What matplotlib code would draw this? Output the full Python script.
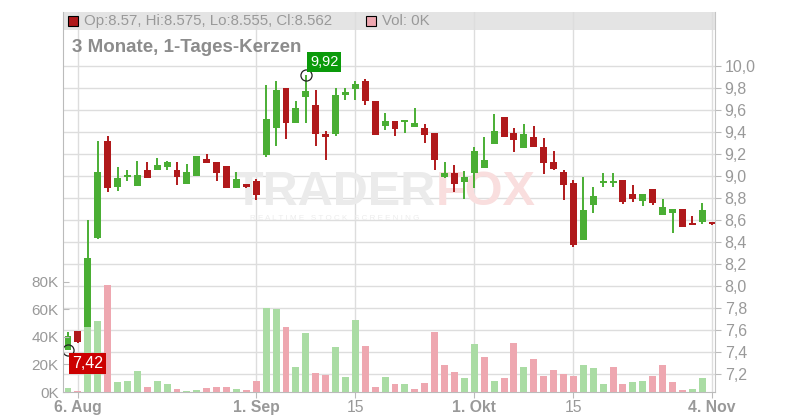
"""Daily candlestick chart with volume bars (3 months)."""

import matplotlib
matplotlib.use("Agg")
import matplotlib.pyplot as plt
import matplotlib.patches as mpatches
import numpy as np
import pandas as pd

plt.rcParams["font.family"] = ["Liberation Sans", "DejaVu Sans"]

# Data (prices in EUR, volume in thousand shares)
start_date = "2024-08-05"
end_date = "2024-11-04"
opens = [7.42, 7.59, 7.50, 8.439, 9.318, 8.903, 8.991, 8.909, 9.055, 9.057,
         9.085, 9.055, 8.93, 9.003, 9.155, 9.127, 9.091, 8.894, 8.927, 8.955,
         9.191, 9.439, 9.80, 9.485, 9.721, 9.645, 9.385, 9.385, 9.739, 9.791,
         9.864, 9.682, 9.455, 9.50, 9.49, 9.445, 9.436, 9.391, 8.991, 9.027,
         8.945, 9.027, 9.073, 9.291, 9.536, 9.391, 9.255, 9.355, 9.264, 9.127,
         9.036, 8.936, 8.418, 8.736, 8.94, 8.935, 8.964, 8.836, 8.776, 8.882,
         8.648, 8.666, 8.70, 8.573, 8.585, 8.57]
highs = [7.585, 7.59, 8.60, 9.318, 9.364, 9.082, 9.055, 9.136, 9.127, 9.164,
         9.136, 9.127, 9.109, 9.182, 9.20, 9.127, 9.091, 9.036, 8.927, 8.973,
         9.827, 9.864, 9.80, 9.682, 9.92, 9.782, 9.41, 9.80, 9.80, 9.864,
         9.88, 9.682, 9.573, 9.50, 9.51, 9.618, 9.473, 9.391, 9.127, 9.10,
         9.045, 9.264, 9.355, 9.564, 9.536, 9.436, 9.473, 9.455, 9.345, 9.227,
         9.055, 8.964, 8.991, 8.90, 9.027, 9.027, 8.964, 8.918, 8.836, 8.882,
         8.791, 8.70, 8.70, 8.636, 8.755, 8.575]
lows = [7.42, 7.485, 7.49, 8.43, 8.857, 8.866, 8.955, 8.909, 8.985, 9.057,
        9.057, 8.918, 8.93, 9.003, 9.121, 8.957, 8.894, 8.894, 8.894, 8.782,
        9.175, 9.273, 9.336, 9.485, 9.485, 9.275, 9.145, 9.366, 9.691, 9.691,
        9.645, 9.373, 9.418, 9.364, 9.394, 9.445, 9.30, 9.055, 8.982, 8.855,
        8.791, 8.891, 9.073, 9.291, 9.355, 9.218, 9.255, 9.264, 9.018, 9.055,
        8.782, 8.355, 8.418, 8.664, 8.90, 8.90, 8.745, 8.766, 8.73, 8.736,
        8.648, 8.485, 8.539, 8.557, 8.566, 8.555]
closes = [7.545, 7.494, 8.257, 9.036, 8.894, 8.982, 9.005, 9.012, 8.985, 9.10,
          9.127, 8.994, 9.036, 9.182, 9.121, 9.03, 8.894, 8.973, 8.903, 8.827,
          9.518, 9.782, 9.485, 9.618, 9.773, 9.385, 9.355, 9.736, 9.764, 9.836,
          9.682, 9.373, 9.50, 9.427, 9.50, 9.482, 9.373, 9.145, 9.027, 8.927,
          8.991, 9.227, 9.145, 9.409, 9.355, 9.327, 9.382, 9.264, 9.118, 9.064,
          8.918, 8.373, 8.691, 8.818, 8.95, 8.94, 8.766, 8.791, 8.836, 8.757,
          8.715, 8.70, 8.539, 8.557, 8.691, 8.562]
volumes = [2.9, 0.7, 47, 51.4, 77.5, 7.2, 8.0, 15.2, 3.6, 8.0,
           5.8, 2.2, 0.7, 1.4, 2.9, 3.6, 3.6, 2.2, 1.5, 8.0,
           61, 60, 47, 18, 42.8, 13.8, 12.3, 32.6, 10.9, 52,
           33.3, 3.6, 10.9, 5.8, 5.8, 2.2, 6.5, 43.5, 19.6, 14.5,
           10.1, 34.8, 25.4, 8.0, 10.1, 35.5, 18, 24, 11.6, 16,
           13, 11.6, 19.6, 17.4, 5.8, 18, 5.8, 7.2, 8.0, 11.6,
           19.6, 7.2, 1.6, 2.2, 10.1, 0]

tick_dates = ["2024-08-06", "2024-09-01", "2024-09-15", "2024-10-01", "2024-10-15", "2024-11-04"]
tick_labels = ["6. Aug", "1. Sep", "15", "1. Okt", "15", "4. Nov"]
price_ticks = [7.2, 7.4, 7.6, 7.8, 8.0, 8.2, 8.4, 8.6, 8.8, 9.0, 9.2, 9.4, 9.6, 9.8, 10.0]
volume_ticks = [0, 20, 40, 60, 80]

# Colors
UP = "#4aae34"
DOWN = "#b0191b"
VOL_UP = "#aadca4"
VOL_DOWN = "#eea7b0"
GRID = "#dddddd"
LABEL = "#999999"

days = pd.bdate_range(start_date, end_date)
x = np.arange(len(days))
o, h, l, c = map(np.array, (opens, highs, lows, closes))
v = np.array(volumes)
tick_pos = [int(np.searchsorted(days, pd.Timestamp(d), side="right") - 1) for d in tick_dates]

W, H = 800, 420
fig = plt.figure(figsize=(W / 100, H / 100), dpi=100)
left, right, top, bottom = 63, 715, 12, 392
ax = fig.add_axes([left / W, 1 - bottom / H, (right - left) / W, (bottom - top) / H])

# price scale: 110 px per EUR, 10,0 at y=66
px_per_eur = 110.0
ax.set_ylim(10.0 - (bottom - 66) / px_per_eur, 10.0 + (66 - top) / px_per_eur)
x_step = 9.91
ax.set_xlim((left - 68) / x_step, (right - 68) / x_step)

# header band
ax.axhspan(10.0 + (66 - 30) / px_per_eur, 11, color="#e4e4e4", zorder=0.2, lw=0)

for p in price_ticks:
    ax.axhline(p, color=GRID, lw=1, zorder=0.3)
for t in tick_pos:
    ax.axvline(t, color=GRID, lw=1, zorder=0.3)

# watermark
ax.text(0.571, 0.526, "TRADER", transform=ax.transAxes, fontsize=35, fontweight="bold",
        color="#ebebeb", ha="right", va="center", zorder=0.5)
ax.text(0.571, 0.526, "FOX", transform=ax.transAxes, fontsize=35, fontweight="bold",
        color="#f9dede", ha="left", va="center", zorder=0.5)
ax.text(0.417, 0.456, "R E A L T I M E   S T O C K   S C R E E N I N G", transform=ax.transAxes,
        fontsize=5.8, color="#ececec", ha="center", va="center", zorder=0.5)

# candles
up = c >= o
colors = np.where(up, UP, DOWN)
ax.vlines(x, l, h, colors=colors, lw=1.4, zorder=2)
body_lo = np.minimum(o, c)
body_h = np.maximum(np.abs(c - o), 0.018)
ax.bar(x, body_h, bottom=body_lo, width=0.7, color=colors, lw=0, zorder=3)

# volume on its own scale (1.38 px per 1K), colored by close-to-close change
vax = ax.twinx()
vax.set_ylim(0, (bottom - top) / 1.38)
vol_up = np.concatenate([[True], c[1:] >= c[:-1]])
vax.bar(x, v, width=0.7, color=np.where(vol_up, VOL_UP, VOL_DOWN), lw=0, zorder=4)

# price axis on the right
ax.yaxis.tick_right()
ax.set_yticks(price_ticks)
ax.set_yticklabels([f"{p:.1f}".replace(".", ",") for p in price_ticks])
ax.tick_params(axis="y", colors="#bbbbbb", labelcolor=LABEL, labelsize=11.5, length=4, pad=3)

# volume axis on the left
vax.yaxis.tick_left()
vax.set_yticks(volume_ticks)
vax.set_yticklabels([f"{t}K" for t in volume_ticks])
vax.tick_params(axis="y", colors="#bbbbbb", labelcolor=LABEL, labelsize=11,
                length=4, direction="in", pad=3)

ax.set_xticks(tick_pos)
ax.set_xticklabels(tick_labels)
ax.tick_params(axis="x", colors="#bbbbbb", labelcolor=LABEL, labelsize=11.3, length=4, pad=2)
for lab in ax.get_xticklabels():
    if lab.get_text() != "15":
        lab.set_fontweight("bold")

for a in (ax, vax):
    for s in a.spines.values():
        s.set_visible(False)
vax.spines["left"].set_visible(True)
vax.spines["left"].set_color("#bbbbbb")
vax.spines["right"].set_visible(True)
vax.spines["right"].set_color("#c4c4c4")
vax.spines["bottom"].set_visible(True)
vax.spines["bottom"].set_color("#bbbbbb")

# max / min markers
i_hi = int(np.argmax(h))
i_lo = int(np.argmin(l))
ax.plot(x[i_hi], h[i_hi], "o", ms=8, mfc="none", mec="#222222", mew=0.9, zorder=6)
ax.plot(x[i_lo], l[i_lo], "o", ms=8, mfc="none", mec="#222222", mew=0.9, zorder=6)
vax.annotate(f"{h[i_hi]:.2f}".replace(".", ","), xy=(x[i_hi], h[i_hi]), xycoords=ax.transData,
             xytext=(3, 9), textcoords="offset points", fontsize=10.5, color="white",
             ha="left", va="center",
             bbox=dict(boxstyle="square,pad=0.2", fc="#0a9a0a", ec="none"), zorder=10)
vax.annotate(f"{l[i_lo]:.2f}".replace(".", ","), xy=(x[i_lo], l[i_lo]), xycoords=ax.transData,
             xytext=(3, -10), textcoords="offset points", fontsize=11.5, color="white",
             ha="left", va="center",
             bbox=dict(boxstyle="square,pad=0.2", fc="#cc0000", ec="none"), zorder=10)

# header legend and title
fig.add_artist(mpatches.Rectangle((68 / W, 1 - 26 / H), 10 / W, 10 / H, fc=DOWN, ec="black", lw=0.8))
fig.text(84 / W, 1 - 21 / H, f"Op:{o[-1]:.2f}, Hi:{h[-1]:.3f}, Lo:{l[-1]:.3f}, Cl:{c[-1]:.3f}",
         fontsize=10.8, color=LABEL, va="center")
fig.add_artist(mpatches.Rectangle((366 / W, 1 - 26 / H), 10 / W, 10 / H, fc=VOL_DOWN, ec="black", lw=0.8))
fig.text(382 / W, 1 - 21 / H, f"Vol: {v[-1]:.0f}K", fontsize=10.8, color=LABEL, va="center")
fig.text(72 / W, 1 - 47 / H, "3 Monate, 1-Tages-Kerzen", fontsize=13.5, fontweight="bold",
         color="#8c8c8c", va="center")

fig.savefig("out.png", dpi=100)
